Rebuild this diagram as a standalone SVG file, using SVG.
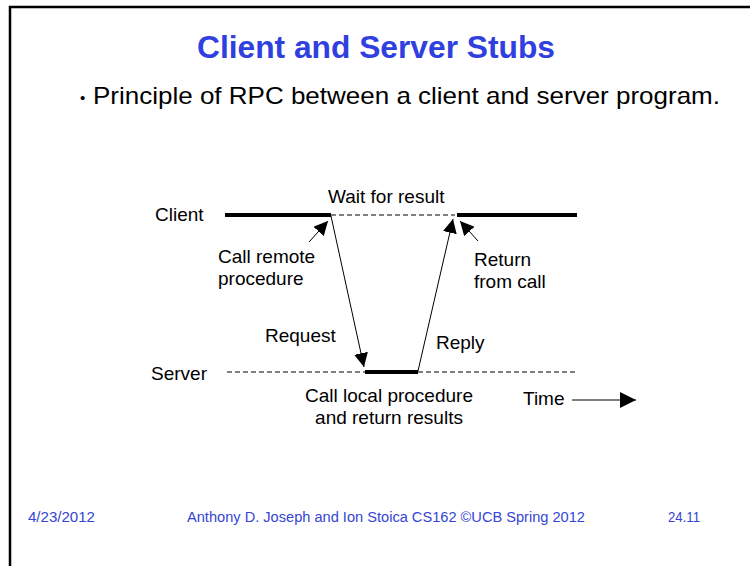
<svg xmlns="http://www.w3.org/2000/svg" width="750" height="566" viewBox="0 0 750 566">
<defs>
<style>
.t{font-family:"Liberation Sans",Arial,sans-serif;font-size:19px;fill:#000}
.title{font-family:"Liberation Sans",Arial,sans-serif;font-size:31px;font-weight:bold;fill:#3040e0}
.bul{font-family:"Liberation Sans",Arial,sans-serif;font-size:24px;fill:#000}
.ft{font-family:"Liberation Sans",Arial,sans-serif;font-size:14px;fill:#3545d5}
.thick{stroke:#000;stroke-width:4;fill:none}
.dash{stroke:#000;stroke-width:1;stroke-dasharray:5,3;fill:none}
.thin{stroke:#000;stroke-width:1;fill:none}
</style>
<marker id="ah" viewBox="0 0 10 10" refX="10" refY="5" markerWidth="14" markerHeight="14" markerUnits="userSpaceOnUse" orient="auto">
<path d="M0,0 L10,5 L0,10 z" fill="#000"/>
</marker>
<marker id="ah2" viewBox="0 0 10 10" refX="10" refY="5" markerWidth="16" markerHeight="16" markerUnits="userSpaceOnUse" orient="auto">
<path d="M0,0 L10,5 L0,10 z" fill="#000"/>
</marker>
</defs>
<rect width="750" height="566" fill="#fff"/>
<path d="M10,566 L10,7 L750,7" stroke="#000" stroke-width="2.5" fill="none"/>
<text class="title" x="197" y="58" textLength="358" lengthAdjust="spacingAndGlyphs">Client and Server Stubs</text>
<text x="80" y="103" style="font-family:'Liberation Sans',Arial,sans-serif;font-size:15px">•</text>
<text class="bul" x="93" y="104" textLength="627" lengthAdjust="spacingAndGlyphs">Principle of RPC between a client and server program.</text>

<g id="client-line">
<line class="thick" x1="225" y1="215" x2="331" y2="215"/>
<line class="dash" x1="331" y1="215" x2="455" y2="215"/>
<line class="thick" x1="457" y1="215" x2="577" y2="215"/>
<text class="t" x="155" y="221">Client</text>
</g>
<g id="server-line">
<line class="dash" x1="227" y1="372" x2="365" y2="372"/>
<line class="thick" x1="365" y1="372" x2="418" y2="372"/>
<line class="dash" x1="418" y1="372" x2="577" y2="372"/>
<text class="t" x="151" y="380">Server</text>
</g>
<g id="labels">
<text class="t" x="328" y="203">Wait for result</text>
<text class="t" x="218" y="263">Call remote</text>
<text class="t" x="218" y="285">procedure</text>
<text class="t" x="474" y="266">Return</text>
<text class="t" x="474" y="288">from call</text>
<text class="t" x="265" y="342">Request</text>
<text class="t" x="436" y="349">Reply</text>
<text class="t" x="389" y="402" text-anchor="middle">Call local procedure</text>
<text class="t" x="389" y="424" text-anchor="middle">and return results</text>
<text class="t" x="523" y="405">Time</text>
</g>
<g id="connectors">
<line class="thin" x1="331" y1="216" x2="364" y2="367" marker-end="url(#ah)"/>
<line class="thin" x1="418" y1="371" x2="453" y2="219" marker-end="url(#ah)"/>
<line class="thin" x1="309" y1="242" x2="328" y2="221" marker-end="url(#ah)"/>
<line class="thin" x1="478" y1="241" x2="460" y2="221" marker-end="url(#ah)"/>
<line class="thin" x1="572" y1="400" x2="636" y2="400" marker-end="url(#ah2)"/>
</g>
<g id="footer">
<text class="ft" x="28" y="522" textLength="67" lengthAdjust="spacingAndGlyphs">4/23/2012</text>
<text class="ft" x="187" y="522" textLength="398" lengthAdjust="spacingAndGlyphs">Anthony D. Joseph and Ion Stoica CS162 ©UCB Spring 2012</text>
<text class="ft" x="668" y="522" textLength="32" lengthAdjust="spacingAndGlyphs">24.11</text>
</g>
</svg>
